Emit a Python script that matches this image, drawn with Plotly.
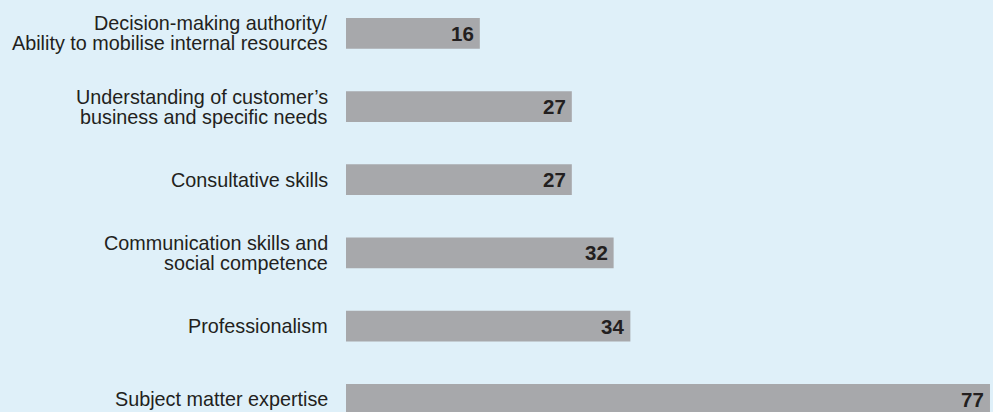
import plotly.graph_objects as go

# Survey results: share of respondents naming each attribute
categories = [
    "Decision-making authority/<br>Ability to mobilise internal resources",
    "Understanding of customer’s<br>business and specific needs",
    "Consultative skills",
    "Communication skills and<br>social competence",
    "Professionalism",
    "Subject matter expertise",
]
values = [16, 27, 27, 32, 34, 77]

BG = "#dff0f9"
BAR = "#a7a8ab"
INK = "#231f20"
FONT = "Liberation Sans, Arial, sans-serif"
LABEL_SIZE = 19.8
VALUE_SIZE = 20.5
LINE_GAP = 20

fig = go.Figure(
    go.Bar(
        x=values,
        y=categories,
        orientation="h",
        marker=dict(color=BAR, line=dict(width=0)),
        width=0.42,
        hoverinfo="skip",
    )
)

annotations = []
# category labels, one annotation per line to keep the tight line spacing
for cat in categories:
    lines = cat.split("<br>")
    n = len(lines)
    for k, line in enumerate(lines):
        shift = ((n - 1) / 2 - k) * LINE_GAP
        annotations.append(dict(
            x=0, xref="paper", y=cat, yref="y",
            text=line, showarrow=False,
            xanchor="right", yanchor="middle",
            xshift=-16, yshift=shift,
            font=dict(family=FONT, size=LABEL_SIZE, color=INK),
        ))

# value labels at the inner end of each bar
for cat, v in zip(categories, values):
    annotations.append(dict(
        x=v, xref="x", y=cat, yref="y",
        text=f"<b>{v}</b>", showarrow=False,
        xanchor="right", yanchor="middle",
        xshift=-4,
        font=dict(family=FONT, size=VALUE_SIZE, color=INK),
    ))

fig.update_layout(
    width=993, height=412,
    margin=dict(l=346, r=0, t=0, b=0),
    paper_bgcolor=BG, plot_bgcolor=BG,
    showlegend=False,
    annotations=annotations,
    xaxis=dict(range=[0, 77.36], visible=False, fixedrange=True),
    yaxis=dict(
        type="category",
        categoryorder="array", categoryarray=categories,
        range=[5.173, -0.455],
        visible=False, fixedrange=True,
    ),
)

fig.write_html("out.html", config={"displayModeBar": False})
